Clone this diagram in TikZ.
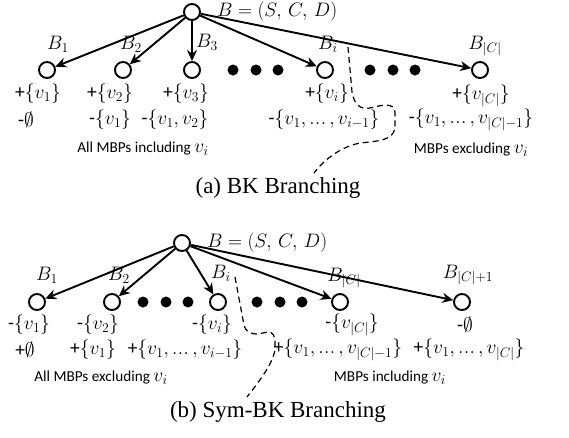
\RequirePackage{fix-cm}
\documentclass[tikz,border=0pt]{standalone}
\usepackage{amsmath,amssymb}
\usepackage[no-math]{fontspec}
\setmainfont{Carlito}[Scale=0.78]
\newfontfamily\sgnfont{Carlito}
\newfontfamily\capfont{Liberation Serif}
\usetikzlibrary{arrows.meta,calc}
\newcommand{\eli}{\mathinner{.\kern0.5pt.\kern0.5pt.}}
\newcommand{\pls}{{\sgnfont+}}
\newcommand{\mns}{{\sgnfont-}}

\begin{document}
\begin{tikzpicture}[x=1pt,y=-1pt,
	vtx/.style={circle,draw,line width=1.9pt,minimum size=16pt,inner sep=0pt},
	arr/.style={line width=1.9pt,-{Stealth[length=11pt,width=10pt,inset=3.5pt]}},
	txt/.style={inner sep=0pt,font=\fontsize{19.5}{23}\selectfont},
	captxt/.style={inner sep=0pt,font=\capfont\fontsize{23}{26}\selectfont},
	sep/.style={line width=1.2pt,dash pattern=on 6pt off 4pt}]
	\useasboundingbox (0,0) rectangle (569,437);
	\node[vtx] (a) at (192,12) {};
	\node[txt,anchor=west] (aB) at (217,12) {$B=(S,\,C,\,D)$};
	\node[vtx] (a1) at (47,70) {};
	\node[vtx] (a2) at (123,70) {};
	\node[vtx] (a3) at (192,70) {};
	\node[vtx] (ai) at (325,70) {};
	\node[vtx] (ac) at (480,70) {};
	\foreach \n in {a1,a2,a3,ai,ac}
		\draw[arr] (a) -- (\n);
	\foreach \x in {233,256,278,370,393,415}
		\fill (\x,70) circle (5.5);
	\node[txt] (la1) at (58,44) {$B_1$};
	\node[txt] (la2) at (131,44) {$B_2$};
	\node[txt] (la3) at (207,42) {$B_3$};
	\node[txt] (lai) at (328,44) {$B_i$};
	\node[txt] (lac) at (485,46) {$B_{|C|}$};
	\node[txt] (pa1) at (38,94) {\pls$\{v_1\}$};
	\node[txt] (pa2) at (110,94) {\pls$\{v_2\}$};
	\node[txt] (pa3) at (186,94) {\pls$\{v_3\}$};
	\node[txt] (pai) at (327,94) {\pls$\{v_i\}$};
	\node[txt] (pac) at (481,96) {\pls$\{v_{|C|}\}$};
	\node[txt] (ma1) at (26,120) {\mns$\emptyset$};
	\node[txt] (ma2) at (110,120) {\mns$\{v_1\}$};
	\node[txt] (ma3) at (175,120) {\mns$\{v_1,v_2\}$};
	\node[txt] (mai) at (324,120) {\mns$\{v_1,\eli,v_{i-1}\}$};
	\node[txt] (mac) at (471,120) {\mns$\{v_1,\eli,v_{|C|-1}\}$};
	\node[txt] (ina) at (143,149) {All MBPs including $v_i$};
	\node[txt] (exa) at (471,150) {MBPs excluding $v_i$};
	\node[captxt] (capa) at (278,188) {(a) BK Branching};
	\draw[sep] (348,47) -- (352,92) .. controls (354,104) and (360,110) .. (370,108)
		.. controls (382,105) and (394,102) .. (395,112) -- (395,128)
		.. controls (393,140) and (380,141) .. (360,143)
		.. controls (340,147) and (324,160) .. (314,173);
	\node[vtx] (b) at (182,243) {};
	\node[txt,anchor=west] (bB) at (207,243) {$B=(S,\,C,\,D)$};
	\node[vtx] (b1) at (37,302) {};
	\node[vtx] (b2) at (112,302) {};
	\node[vtx] (bi) at (218,302) {};
	\node[vtx] (bc) at (340,302) {};
	\node[vtx] (bd) at (462,302) {};
	\foreach \n in {b1,b2,bi,bc,bd}
		\draw[arr] (b) -- (\n);
	\foreach \x in {143,166,188,257,280,302}
		\fill (\x,302) circle (5.5);
	\node[txt] (lb1) at (47,275) {$B_1$};
	\node[txt] (lb2) at (119,275) {$B_2$};
	\node[txt] (lbi) at (221,273) {$B_i$};
	\node[txt] (lbc) at (344,278) {$B_{|C|}$};
	\node[txt] (lbd) at (468,275) {$B_{|C|+1}$};
	\node[txt] (mb1) at (29,325) {\mns$\{v_1\}$};
	\node[txt] (mb2) at (98,325) {\mns$\{v_2\}$};
	\node[txt] (mbi) at (212,325) {\mns$\{v_i\}$};
	\node[txt] (mbc) at (352,325) {\mns$\{v_{|C|}\}$};
	\node[txt] (mbd) at (465,325) {\mns$\emptyset$};
	\node[txt] (pb1) at (25,350) {\pls$\emptyset$};
	\node[txt] (pb2) at (93,350) {\pls$\{v_1\}$};
	\node[txt] (pbi) at (185,350) {\pls$\{v_1,\eli,v_{i-1}\}$};
	\node[txt] (pbc) at (338,350) {\pls$\{v_1,\eli,v_{|C|-1}\}$};
	\node[txt] (pbd) at (469,350) {\pls$\{v_1,\eli,v_{|C|}\}$};
	\node[txt] (exb) at (101,378) {All MBPs excluding $v_i$};
	\node[txt] (inb) at (390,378) {MBPs including $v_i$};
	\node[captxt] (capb) at (278,412) {(b) Sym-BK Branching};
	\draw[sep] (235,277) -- (244,325) .. controls (246,332) and (250,334) .. (258,334)
		-- (268,332) .. controls (273,332) and (275,336) .. (275,342) -- (275,350)
		.. controls (272,365) and (260,380) .. (247,397);
\end{tikzpicture}
\end{document}
